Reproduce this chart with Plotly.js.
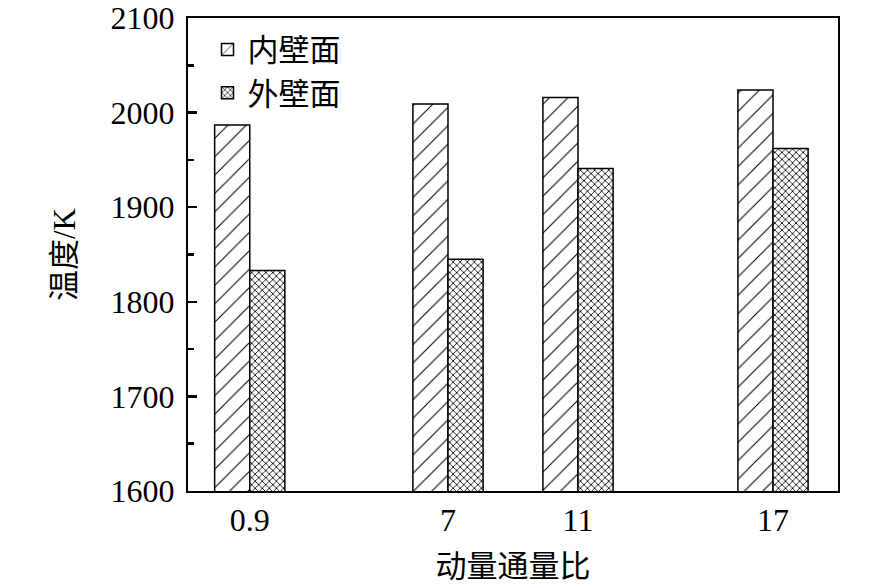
<!DOCTYPE html>
<html>
<head>
<meta charset="utf-8">
<script src="https://cdn.plot.ly/plotly-3.0.1.min.js"></script>
<style>
  html, body { margin: 0; padding: 0; background: #fff; }
  #chart { width: 886px; height: 588px; }
</style>
</head>
<body>
<div id="chart"></div>
<script>
// momentum flux ratio (x positions) and wall temperatures, K
const ratios = [0.9, 7, 11, 17];
const ratioLabels = ['0.9', '7', '11', '17'];
const innerWall = [1987, 2009, 2016, 2024];
const outerWall = [1833, 1845, 1941, 1962];

const FONT = '"Liberation Serif", "Noto Sans CJK SC", serif';
const BAR_W = 1.08;

const inner = {
  type: 'bar',
  name: '内壁面',
  x: ratios,
  y: innerWall,
  width: BAR_W,
  offset: -BAR_W,
  marker: {
    color: '#ffffff',
    line: { color: '#000000', width: 1.5 },
    pattern: { shape: '/', size: 13, solidity: 0.08, fgcolor: '#000000', bgcolor: '#ffffff' },
  },
};

const outer = {
  type: 'bar',
  name: '外壁面',
  x: ratios,
  y: outerWall,
  width: BAR_W,
  offset: 0,
  marker: {
    color: '#ffffff',
    line: { color: '#000000', width: 1.5 },
    pattern: { shape: 'x', size: 5, solidity: 0.3, fgcolor: '#000000', bgcolor: '#ffffff' },
  },
};

const layout = {
  width: 886,
  height: 588,
  margin: { l: 188, r: 48, t: 18, b: 97 },
  paper_bgcolor: '#ffffff',
  plot_bgcolor: '#ffffff',
  font: { family: FONT, size: 32, color: '#000000' },
  barmode: 'overlay',
  showlegend: true,
  legend: {
    x: 0.03,
    y: 0.99,
    xanchor: 'left',
    yanchor: 'top',
    bgcolor: 'rgba(0,0,0,0)',
    font: { family: FONT, size: 31 },
    tracegroupgap: 0,
  },
  xaxis: {
    range: [-1, 19],
    tickmode: 'array',
    tickvals: ratios,
    ticktext: ratioLabels,
    ticks: '',
    showgrid: false,
    zeroline: false,
    showline: true,
    mirror: true,
    linecolor: '#000000',
    linewidth: 2,
    tickfont: { family: FONT, size: 32 },
    title: { text: '动量通量比', font: { family: FONT, size: 31 }, standoff: 18 },
  },
  yaxis: {
    range: [1600, 2100],
    dtick: 100,
    ticks: 'inside',
    ticklen: 9,
    tickwidth: 2.5,
    tickcolor: '#000000',
    ticklabelstandoff: 5,
    minor: { dtick: 50, ticks: 'inside', ticklen: 6, tickwidth: 2.5, tickcolor: '#000000', showgrid: false },
    showgrid: false,
    zeroline: false,
    showline: true,
    mirror: true,
    linecolor: '#000000',
    linewidth: 2,
    tickfont: { family: FONT, size: 32 },
    title: { text: '温度/K', font: { family: FONT, size: 31 }, standoff: 26 },
  },
};

Plotly.newPlot('chart', [inner, outer], layout, { displayModeBar: false, staticPlot: true });
</script>
</body>
</html>
